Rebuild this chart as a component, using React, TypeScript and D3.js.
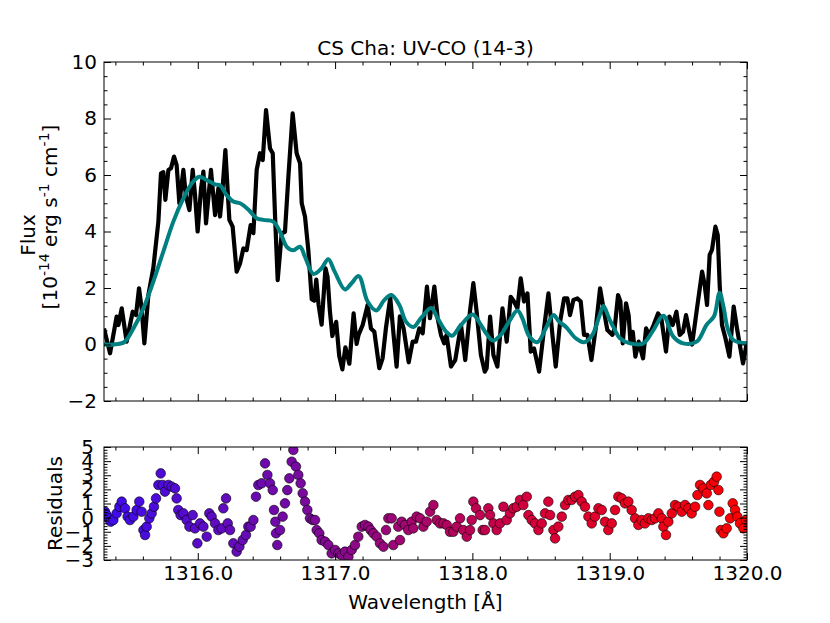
import React, { useEffect, useRef } from 'react';
import * as d3 from 'd3';

// observed spectrum [wavelength (Å), flux (1e-14 erg/s/cm)]
const spectrum: [number, number][] = [
  [1315.317, 0.57], [1315.361, -0.31], [1315.409, 0.99], [1315.422, 0.69], [1315.446, 1.28],
  [1315.482, 0.10], [1315.526, 1.16], [1315.550, 1.04], [1315.572, 1.99], [1315.591, 1.28],
  [1315.611, 0.04], [1315.640, 1.75], [1315.676, 2.70], [1315.713, 4.35], [1315.732, 6.06],
  [1315.749, 6.10], [1315.764, 5.12], [1315.786, 6.18], [1315.805, 6.24], [1315.827, 6.65],
  [1315.846, 6.35], [1315.866, 5.00], [1315.895, 6.18], [1315.914, 5.23], [1315.939, 4.76],
  [1315.963, 6.18], [1315.980, 5.29], [1315.999, 4.00], [1316.024, 5.53], [1316.041, 6.12],
  [1316.060, 4.29], [1316.096, 6.18], [1316.126, 4.58], [1316.150, 5.53], [1316.162, 4.53],
  [1316.177, 5.29], [1316.201, 6.88], [1316.218, 5.41], [1316.230, 4.41], [1316.254, 4.17],
  [1316.283, 2.58], [1316.308, 2.87], [1316.332, 3.40], [1316.356, 3.34], [1316.385, 4.23],
  [1316.405, 3.94], [1316.429, 6.18], [1316.453, 6.77], [1316.473, 6.53], [1316.497, 8.30],
  [1316.526, 6.94], [1316.546, 6.77], [1316.563, 4.52], [1316.582, 2.28], [1316.611, 3.93],
  [1316.635, 3.99], [1316.660, 5.94], [1316.691, 8.18], [1316.720, 6.77], [1316.745, 6.41],
  [1316.757, 5.00], [1316.781, 4.52], [1316.805, 3.34], [1316.830, 1.60], [1316.848, 1.55],
  [1316.863, 2.30], [1316.880, 1.40], [1316.902, 0.70], [1316.930, 2.70], [1316.945, 2.40],
  [1316.962, 1.20], [1316.980, 0.30], [1317.008, 0.80], [1317.030, -0.40], [1317.053, -0.88],
  [1317.075, -0.10], [1317.104, -0.68], [1317.135, 1.10], [1317.157, 0.02], [1317.171, 0.34],
  [1317.201, 0.69], [1317.237, 1.40], [1317.261, 0.57], [1317.286, 0.45], [1317.322, -0.84],
  [1317.346, -0.49], [1317.370, 0.57], [1317.402, 1.65], [1317.426, 0.34], [1317.448, -0.78],
  [1317.472, 1.00], [1317.499, 0.57], [1317.536, -0.63], [1317.565, 0.10], [1317.589, 0.10],
  [1317.613, 0.57], [1317.638, 0.40], [1317.669, 2.05], [1317.691, 0.93], [1317.723, 2.05],
  [1317.747, 0.93], [1317.771, 0.34], [1317.795, 0.04], [1317.812, 0.34], [1317.844, -0.78],
  [1317.875, -0.55], [1317.917, 0.69], [1317.948, -0.55], [1317.982, 1.16], [1318.007, 2.17],
  [1318.031, 1.16], [1318.062, -0.37], [1318.090, -0.96], [1318.104, -0.84], [1318.129, 0.99],
  [1318.153, -0.37], [1318.182, -0.78], [1318.219, 1.28], [1318.250, 0.10], [1318.279, 1.69],
  [1318.303, 1.52], [1318.328, 1.28], [1318.352, 2.34], [1318.376, 1.52], [1318.401, 1.81],
  [1318.425, -0.25], [1318.449, -0.14], [1318.486, -0.96], [1318.522, 0.57], [1318.554, 1.81],
  [1318.583, 0.34], [1318.607, -0.78], [1318.639, 0.81], [1318.668, 1.63], [1318.692, 1.63],
  [1318.711, 1.04], [1318.736, 1.58], [1318.765, 1.63], [1318.789, 1.52], [1318.813, 0.34],
  [1318.838, 0.34], [1318.867, -0.55], [1318.898, 0.57], [1318.930, 1.99], [1318.959, 1.16],
  [1318.983, 0.51], [1319.020, 0.34], [1319.036, 0.57], [1319.061, 1.75], [1319.078, 1.52],
  [1319.095, 0.04], [1319.119, 1.46], [1319.138, 1.04], [1319.151, 0.10], [1319.168, 0.45],
  [1319.187, -0.43], [1319.211, 0.10], [1319.243, -0.49], [1319.265, 0.57], [1319.289, 0.34],
  [1319.320, 0.69], [1319.352, 1.10], [1319.376, 0.93], [1319.410, -0.25], [1319.435, 0.99],
  [1319.459, 0.69], [1319.486, 1.16], [1319.510, 0.34], [1319.534, 0.45], [1319.556, 1.04],
  [1319.580, 0.45], [1319.600, 0.00], [1319.636, 1.28], [1319.673, 2.58], [1319.692, 2.11],
  [1319.709, 1.40], [1319.728, 3.17], [1319.745, 3.35], [1319.770, 4.17], [1319.787, 3.87],
  [1319.801, 2.11], [1319.818, 0.69], [1319.843, 0.22], [1319.872, -0.43], [1319.903, 1.34],
  [1319.927, 0.57], [1319.952, -0.14], [1319.971, -0.67], [1320.000, 0.10],
];

// UV-CO model
const model: [number, number][] = [
  [1315.317, 0.00], [1315.385, 0.00], [1315.463, 0.08], [1315.531, 0.57], [1315.604, 1.28],
  [1315.676, 2.22], [1315.749, 3.29], [1315.822, 4.35], [1315.895, 5.17], [1315.956, 5.70],
  [1316.011, 5.94], [1316.065, 5.82], [1316.126, 5.67], [1316.162, 5.63], [1316.210, 5.29],
  [1316.259, 5.06], [1316.308, 5.00], [1316.368, 4.78], [1316.429, 4.47], [1316.478, 4.41],
  [1316.550, 4.35], [1316.599, 3.99], [1316.648, 3.46], [1316.696, 3.34], [1316.745, 3.46],
  [1316.781, 3.10], [1316.842, 2.50], [1316.900, 2.69], [1316.950, 3.02], [1316.997, 2.58],
  [1317.072, 1.95], [1317.120, 2.17], [1317.172, 2.42], [1317.237, 1.52], [1317.300, 1.20],
  [1317.358, 1.57], [1317.410, 1.75], [1317.468, 1.40], [1317.516, 0.81], [1317.570, 0.62],
  [1317.625, 0.93], [1317.700, 1.29], [1317.747, 0.93], [1317.808, 0.46], [1317.852, 0.31],
  [1317.917, 0.69], [1318.002, 1.06], [1318.062, 0.69], [1318.100, 0.40], [1318.150, 0.14],
  [1318.206, 0.34], [1318.267, 0.81], [1318.328, 1.20], [1318.364, 0.93], [1318.413, 0.30],
  [1318.473, 0.08], [1318.534, 0.57], [1318.590, 1.04], [1318.631, 0.81], [1318.680, 0.63],
  [1318.753, 0.22], [1318.813, 0.08], [1318.874, 0.34], [1318.923, 0.98], [1318.954, 1.36],
  [1318.995, 0.93], [1319.032, 0.57], [1319.075, 0.22], [1319.148, 0.04], [1319.245, 0.04],
  [1319.318, 0.51], [1319.391, 1.02], [1319.463, 0.28], [1319.536, 0.04], [1319.633, 0.10],
  [1319.706, 0.70], [1319.760, 1.00], [1319.800, 1.83], [1319.830, 1.30], [1319.860, 0.55],
  [1319.900, 0.16], [1320.000, 0.04],
];

// residuals [wavelength, residual]
const residuals: [number, number][] = [
  [1315.324, 0.42], [1315.336, 0.18], [1315.349, -0.05], [1315.366, -0.29], [1315.385, -0.17],
  [1315.409, 0.30], [1315.429, 0.77], [1315.446, 1.13], [1315.470, 0.66], [1315.489, 0.07],
  [1315.506, -0.17], [1315.531, 0.07], [1315.555, 0.54], [1315.574, 1.13], [1315.591, 0.42],
  [1315.604, -0.88], [1315.616, -1.23], [1315.628, -0.64], [1315.647, -0.05], [1315.664, 0.30],
  [1315.681, 0.77], [1315.696, 1.36], [1315.713, 2.31], [1315.730, 3.13], [1315.744, 2.31],
  [1315.761, 1.84], [1315.786, 2.31], [1315.810, 2.19], [1315.834, 2.07], [1315.846, 1.36],
  [1315.858, 0.54], [1315.875, 0.18], [1315.895, 0.30], [1315.919, -0.17], [1315.939, -0.64],
  [1315.963, 0.18], [1315.980, -0.76], [1315.997, -1.82], [1316.016, -0.41], [1316.041, -0.64],
  [1316.065, -1.35], [1316.084, 0.30], [1316.101, 0.07], [1316.126, -0.41], [1316.150, -0.88],
  [1316.174, -0.76], [1316.186, 0.66], [1316.206, 1.36], [1316.218, -0.41], [1316.235, -0.88],
  [1316.259, -1.82], [1316.283, -2.41], [1316.303, -2.06], [1316.327, -1.59], [1316.351, -1.23],
  [1316.368, -0.64], [1316.385, -0.64], [1316.405, -0.17], [1316.424, 1.48], [1316.441, 2.31],
  [1316.465, 2.43], [1316.490, 3.84], [1316.507, 3.02], [1316.526, 2.43], [1316.546, 1.95],
  [1316.555, 0.54], [1316.565, -0.29], [1316.570, -1.11], [1316.579, -1.94], [1316.599, -0.88],
  [1316.618, 0.07], [1316.635, 1.01], [1316.652, 1.95], [1316.667, 2.78], [1316.684, 3.96],
  [1316.696, 4.79], [1316.715, 3.61], [1316.732, 3.02], [1316.749, 2.43], [1316.764, 1.72],
  [1316.781, 1.13], [1316.798, 0.54], [1316.817, -0.05], [1316.837, -0.17], [1316.854, -0.17],
  [1316.866, -0.88], [1316.885, -1.11], [1316.902, -1.59], [1316.927, -1.70], [1316.951, -1.94],
  [1316.975, -2.53], [1317.000, -2.29], [1317.024, -2.53], [1317.048, -2.65], [1317.072, -2.41],
  [1317.097, -2.77], [1317.121, -2.29], [1317.145, -1.94], [1317.169, -1.35], [1317.194, -0.64],
  [1317.218, -0.52], [1317.242, -0.64], [1317.259, -0.88], [1317.279, -1.11], [1317.303, -1.35],
  [1317.327, -1.82], [1317.352, -2.06], [1317.371, -0.88], [1317.388, -0.05], [1317.412, -0.05],
  [1317.424, -1.94], [1317.460, -0.64], [1317.473, -1.59], [1317.485, -0.29], [1317.509, -0.52],
  [1317.533, -0.88], [1317.558, -0.29], [1317.570, -0.76], [1317.594, 0.07], [1317.619, -0.05],
  [1317.643, -0.64], [1317.667, -0.29], [1317.692, 0.42], [1317.716, 0.89], [1317.740, -0.17],
  [1317.764, -0.41], [1317.789, -0.41], [1317.813, -0.52], [1317.837, -1.00], [1317.861, -1.00],
  [1317.886, -0.64], [1317.910, -0.05], [1317.934, -0.88], [1317.959, -1.35], [1317.983, -0.88],
  [1317.995, -0.17], [1318.007, 1.13], [1318.027, 0.66], [1318.056, 0.18], [1318.075, -0.88],
  [1318.092, -0.88], [1318.116, 0.66], [1318.129, 0.18], [1318.153, -0.41], [1318.177, -0.88],
  [1318.201, -0.41], [1318.226, 0.77], [1318.250, -0.17], [1318.274, 0.30], [1318.298, 0.66],
  [1318.323, 0.77], [1318.347, 1.25], [1318.371, 0.89], [1318.396, 1.48], [1318.408, 0.18],
  [1318.432, -0.17], [1318.456, -0.41], [1318.481, -0.88], [1318.505, -0.41], [1318.529, 0.30],
  [1318.553, 1.13], [1318.566, 0.18], [1318.590, -0.88], [1318.602, -1.47], [1318.626, -0.64],
  [1318.651, 0.07], [1318.675, 0.89], [1318.699, 1.25], [1318.723, 1.25], [1318.748, 1.48],
  [1318.772, 1.60], [1318.796, 1.13], [1318.820, 0.77], [1318.845, 0.07], [1318.869, -0.41],
  [1318.893, 0.07], [1318.918, 0.66], [1318.942, 0.54], [1318.966, -0.29], [1318.990, -0.88],
  [1319.015, -0.41], [1319.039, 0.54], [1319.063, 1.48], [1319.087, 1.36], [1319.112, 1.01],
  [1319.136, 1.13], [1319.160, 0.54], [1319.185, -0.05], [1319.209, -0.52], [1319.233, -0.17],
  [1319.257, -0.41], [1319.282, -0.05], [1319.306, -0.17], [1319.330, -0.05], [1319.355, 0.30],
  [1319.379, -0.05], [1319.391, -0.64], [1319.410, -1.23], [1319.427, -0.29], [1319.452, 0.30],
  [1319.476, 0.89], [1319.500, 0.77], [1319.525, 0.42], [1319.549, 0.89], [1319.573, 0.66],
  [1319.597, 0.30], [1319.622, 0.77], [1319.639, 1.60], [1319.658, 2.31], [1319.682, 2.07],
  [1319.707, 1.72], [1319.719, 0.89], [1319.736, 2.31], [1319.760, 2.54], [1319.779, 2.90],
  [1319.792, 1.95], [1319.799, 0.42], [1319.809, -0.88], [1319.828, -1.11], [1319.852, -0.76],
  [1319.877, -0.05], [1319.896, 1.01], [1319.913, 0.54], [1319.930, 0.07], [1319.949, -0.41],
  [1319.974, -0.76], [1319.993, -0.17],
];

const xDomain: [number, number] = [1315.317, 1320.0];
const xMajor = [1316, 1317, 1318, 1319, 1320];
const fluxMajor = [-2, 0, 2, 4, 6, 8, 10];
const residMajor = [-3, -2, -1, 0, 1, 2, 3, 4, 5];
// marker colour stops along wavelength
const colorStops = [1315.3, 1316.8, 1318.4, 1320.0];
const colorRange = ['#3c0cf0', '#7a0a9c', '#d2003c', '#ff0000'];

const FONT = 'DejaVu Sans, sans-serif';

const App: React.FC = () => {
  const svgRef = useRef<SVGSVGElement>(null);

  useEffect(() => {
    const W = 830, H = 623;
    const L = 104, R = 747;
    const top1 = 62, bot1 = 401;
    const top2 = 447, bot2 = 560;

    const svg = d3.select(svgRef.current).attr('width', W).attr('height', H).html('');
    svg.append('rect').attr('width', W).attr('height', H).attr('fill', '#fff');

    const x = d3.scaleLinear().domain(xDomain).range([L, R]);
    const yF = d3.scaleLinear().domain([-2, 10]).range([bot1, top1]);
    const yR = d3.scaleLinear().domain([-3, 5]).range([bot2, top2]);

    const xMinor = d3.range(1315.4, 1320.0001, 0.2).filter(v => Math.abs(v - Math.round(v)) > 0.01);
    const fluxMinor = d3.range(-2, 10.001, 0.5).filter(v => v % 2 !== 0);
    const residMinor = d3.range(-3, 5.001, 0.2).filter(v => Math.abs(v - Math.round(v)) > 0.01);

    const defs = svg.append('defs');
    defs.append('clipPath').attr('id', 'clip1').append('rect')
      .attr('x', L).attr('y', top1).attr('width', R - L).attr('height', bot1 - top1);
    defs.append('clipPath').attr('id', 'clip2').append('rect')
      .attr('x', L).attr('y', top2).attr('width', R - L).attr('height', bot2 - top2);

    // top panel lines
    const p1 = svg.append('g').attr('clip-path', 'url(#clip1)');
    p1.append('path')
      .datum(spectrum)
      .attr('d', d3.line<[number, number]>().x(d => x(d[0])).y(d => yF(d[1])))
      .attr('fill', 'none').attr('stroke', '#000').attr('stroke-width', 4.2)
      .attr('stroke-linejoin', 'round');
    p1.append('path')
      .datum(model)
      .attr('d', d3.line<[number, number]>().x(d => x(d[0])).y(d => yF(d[1])).curve(d3.curveCatmullRom))
      .attr('fill', 'none').attr('stroke', '#008080').attr('stroke-width', 4)
      .attr('stroke-linejoin', 'round');

    // residual scatter
    const color = d3.scaleLinear<string>().domain(colorStops).range(colorRange);
    svg.append('g').attr('clip-path', 'url(#clip2)')
      .selectAll('circle').data(residuals).enter().append('circle')
      .attr('cx', d => x(d[0])).attr('cy', d => yR(d[1])).attr('r', 4.8)
      .attr('fill', d => color(d[0])).attr('stroke', '#000').attr('stroke-width', 0.6);

    // axes: inward ticks on every side
    const styleAxis = (g: d3.Selection<SVGGElement, unknown, null, undefined>) => {
      g.select('.domain').remove();
      g.selectAll('line').attr('stroke', '#000').attr('stroke-width', 1);
      g.attr('font-family', FONT).attr('font-size', 20).selectAll('text').attr('fill', '#000');
    };

    const panelAxes = (yS: d3.ScaleLinear<number, number>, t: number, b: number,
      yMaj: number[], yMin: number[], xLabels: boolean, yPad: number) => {
      const none = () => '';
      svg.append('g').attr('transform', `translate(0,${b})`)
        .call(d3.axisBottom(x).tickValues(xMinor).tickSize(-3.5).tickFormat(none)).call(styleAxis);
      svg.append('g').attr('transform', `translate(0,${b})`)
        .call(d3.axisBottom(x).tickValues(xMajor).tickSize(-7).tickPadding(6)
          .tickFormat(xLabels ? (d => d3.format('.1f')(d as number)) : none))
        .call(styleAxis);
      svg.append('g').attr('transform', `translate(0,${t})`)
        .call(d3.axisTop(x).tickValues(xMinor).tickSize(-3.5).tickFormat(none)).call(styleAxis);
      svg.append('g').attr('transform', `translate(0,${t})`)
        .call(d3.axisTop(x).tickValues(xMajor).tickSize(-7).tickFormat(none)).call(styleAxis);
      svg.append('g').attr('transform', `translate(${L},0)`)
        .call(d3.axisLeft(yS).tickValues(yMin).tickSize(-3.5).tickFormat(none)).call(styleAxis);
      svg.append('g').attr('transform', `translate(${L},0)`)
        .call(d3.axisLeft(yS).tickValues(yMaj).tickSize(-7).tickPadding(yPad)
          .tickFormat(d => d3.format('d')(d as number)))
        .call(styleAxis);
      svg.append('g').attr('transform', `translate(${R},0)`)
        .call(d3.axisRight(yS).tickValues(yMin).tickSize(-3.5).tickFormat(none)).call(styleAxis);
      svg.append('g').attr('transform', `translate(${R},0)`)
        .call(d3.axisRight(yS).tickValues(yMaj).tickSize(-7).tickFormat(none)).call(styleAxis);
      svg.append('rect').attr('x', L).attr('y', t).attr('width', R - L).attr('height', b - t)
        .attr('fill', 'none').attr('stroke', '#000').attr('stroke-width', 1);
    };

    panelAxes(yF, top1, bot1, fluxMajor, fluxMinor, false, 7);
    panelAxes(yR, top2, bot2, residMajor, residMinor, true, 10);

    // texts
    svg.append('text').attr('x', (L + R) / 2).attr('y', 55).attr('text-anchor', 'middle')
      .attr('font-family', FONT).attr('font-size', 20).text('CS Cha: UV-CO (14-3)');
    svg.append('text').attr('x', (L + R) / 2).attr('y', 609).attr('text-anchor', 'middle')
      .attr('font-family', FONT).attr('font-size', 20).text('Wavelength [Å]');
    svg.append('text').attr('transform', `translate(62,${(top2 + bot2) / 2}) rotate(-90)`)
      .attr('text-anchor', 'middle').attr('font-family', FONT).attr('font-size', 20).text('Residuals');
    svg.append('text').attr('transform', 'translate(35,235) rotate(-90)')
      .attr('text-anchor', 'middle').attr('font-family', FONT).attr('font-size', 20).text('Flux');

    const unit = svg.append('text').attr('transform', 'translate(57,217) rotate(-90)')
      .attr('text-anchor', 'middle').attr('font-family', FONT).attr('font-size', 20);
    const parts: [string, boolean][] = [
      ['[10', false], ['-14', true], [' erg s', false], ['-1', true], [' cm', false], ['-1', true], [']', false],
    ];
    parts.forEach(([s, sup], i) => {
      const prev = i > 0 ? parts[i - 1][1] : false;
      const dy = sup && !prev ? -8 : !sup && prev ? 8 : 0;
      unit.append('tspan').attr('dy', dy).attr('font-size', sup ? 14 : 20)
        .attr('xml:space', 'preserve').style('white-space', 'pre').text(s);
    });
  }, []);

  return <svg ref={svgRef} style={{ position: 'absolute', left: 0, top: 0 }} />;
};

export default App;
